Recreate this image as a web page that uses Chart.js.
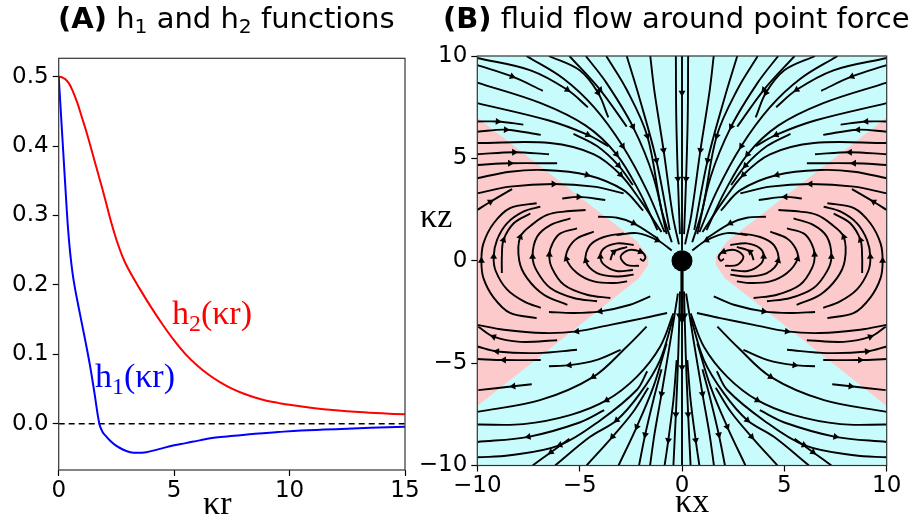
<!DOCTYPE html>
<html>
<head>
<meta charset="utf-8">
<title>h1, h2 and flow around a point force</title>
<script src="https://cdn.jsdelivr.net/npm/chart.js@4.4.1/dist/chart.umd.min.js"></script>
<style>
  html, body { margin: 0; padding: 0; background: #fff; }
  #page { position: relative; width: 924px; height: 522px; overflow: hidden; font-family: "DejaVu Sans", sans-serif; }
  canvas { position: absolute; top: 0; }
  #chartA { left: 0; }
  #chartB { left: 405px; }
  .title { position: absolute; top: 4px; font-size: 29px; line-height: 1; white-space: nowrap; color: #000; }
  .sub { font-size: 70%; position: relative; top: 0.25em; }
  .math { position: absolute; font-family: "Liberation Serif", serif; font-size: 34px; line-height: 1; white-space: nowrap; color: #000; }
  .math .sub { top: 0.3em; }
</style>
</head>
<body>
<div id="page">
  <canvas id="chartA" width="440" height="522"></canvas>
  <canvas id="chartB" width="519" height="522"></canvas>
  <div class="title" style="left:58px"><b>(A)</b> h<span class="sub">1</span> and h<span class="sub">2</span> functions</div>
  <div class="title" style="left:443px"><b>(B)</b> fluid flow around point force</div>
  <div class="math" style="left:172px; top:296px; color:#ff0000">h<span class="sub">2</span>(κr)</div>
  <div class="math" style="left:95px; top:359px; color:#0000ff">h<span class="sub">1</span>(κr)</div>
  <div class="math" style="left:203px; top:486px">κr</div>
  <div class="math" style="left:675px; top:484px">κx</div>
  <div class="math" style="left:420px; top:199px">κz</div>
</div>
<script>
// ---- panel A: h1 and h2 ----
const h1Kr = [0, 0.1, 0.2, 0.3, 0.4, 0.5, 0.6, 0.7, 0.85, 1.0, 1.15, 1.36, 1.55, 1.76, 1.9, 2.05, 2.2, 2.5, 2.8, 3.1, 3.4, 3.8, 4.3, 5.0, 5.5, 6.1, 6.8, 7.6, 8.5, 9.5, 10.5, 11.5, 12.5, 13.5, 15];
const h1Values = [0.5, 0.445, 0.39, 0.335, 0.283, 0.245, 0.217, 0.196, 0.17, 0.145, 0.12, 0.083, 0.044, 0.0, -0.012, -0.018, -0.0235, -0.032, -0.0375, -0.041, -0.042, -0.041, -0.037, -0.031, -0.028, -0.024, -0.02, -0.0175, -0.0145, -0.012, -0.0098, -0.0085, -0.0072, -0.006, -0.0045];
const h2Kr = [0, 0.1, 0.2, 0.3, 0.45, 0.6, 0.8, 1.0, 1.25, 1.5, 1.76, 2.0, 2.25, 2.5, 2.75, 3.0, 3.5, 4.0, 4.5, 5.0, 5.5, 6.0, 6.5, 7.0, 7.5, 8.0, 8.5, 9.0, 9.5, 10, 11, 12, 13, 14, 15];
const h2Values = [0.5, 0.4995, 0.498, 0.496, 0.49, 0.48, 0.463, 0.442, 0.415, 0.385, 0.354, 0.325, 0.293, 0.265, 0.242, 0.224, 0.195, 0.168, 0.143, 0.12, 0.1, 0.084, 0.0705, 0.0595, 0.0505, 0.0435, 0.0378, 0.0332, 0.03, 0.0272, 0.0228, 0.0194, 0.0168, 0.0149, 0.0135];
const zeroLine = [[0, 0], [15, 0]];
const krTicks = [0, 5, 10, 15];
const hTicks = [0, 0.1, 0.2, 0.3, 0.4, 0.5];

// ---- panel B: streamlines, left half (right half is its mirror) ----
// each line is listed in the direction of the flow
const upperFlow = [
  [[-0.3, 10], [-0.28, 7.0], [-0.2, 4.0], [-0.1, 1.3]],
  [[-1.55, 10], [-1.35, 8.3], [-0.9, 5.4], [-0.45, 2.2], [-0.15, 0.8]],
  [[-2.7, 10], [-2.05, 7.85], [-1.25, 4.9], [-0.6, 1.5]],
  [[-3.7, 10], [-2.7, 8.35], [-1.7, 6.1], [-1.0, 2.5], [-0.5, 0.9]],
  [[-4.7, 10], [-3.7, 8.7], [-2.4, 6.55], [-1.4, 4.1], [-0.75, 1.3]],
  [[-5.5, 10], [-4.0, 8.35], [-2.7, 6.55]],
  [[-6.5, 10], [-5.0, 9.3], [-4.1, 8.2], [-3.6, 7.0]],
  [[-7.6, 10], [-5.8, 8.9], [-4.3, 7.5], [-2.9, 5.6], [-1.7, 3.4], [-0.85, 1.4]],
  [[-10, 9.9], [-7.4, 9.3], [-5.6, 8.35], [-4.6, 7.5]],
  [[-10, 9.55], [-8.3, 9.0], [-6.8, 8.3]],
  [[-10, 8.7], [-6.9, 7.7], [-4.7, 6.6], [-3.2, 5.2], [-2.1, 3.4], [-1.2, 1.5]],
  [[-10, 7.7], [-6.5, 6.85], [-4.6, 6.15], [-3.6, 5.6]],
  [[-5.3, 6.2], [-4.15, 5.6], [-3.1, 4.65], [-2.4, 3.7]]
];
const upperPink = [
  [[-10, 6.8], [-9.0, 6.8], [-7.75, 6.65]],
  [[-10, 6.3], [-8.6, 6.4], [-6.9, 6.15]],
  [[-10, 5.75], [-6.45, 5.75], [-4.3, 5.2], [-3.0, 4.2], [-2.0, 2.9], [-1.0, 1.4]],
  [[-10, 5.2], [-8.2, 5.3], [-6.5, 5.2]],
  [[-10, 4.68], [-8.4, 4.76], [-6.1, 4.76]],
  [[-10, 4.03], [-8.4, 4.35], [-6.75, 4.43], [-4.64, 4.19], [-2.85, 3.45], [-1.9, 2.45]],
  [[-10, 3.29], [-8.4, 3.62], [-6.27, 3.75], [-4.31, 3.62], [-2.85, 3.29]],
  [[-10, 2.48], [-9.36, 2.88], [-8.3, 3.5]],
  [[-5.85, 3.04], [-5.05, 3.12], [-3.75, 2.97]],
  [[-4.1, 2.15], [-3.17, 2.1], [-2.36, 1.83], [-1.2, 1.1]],
  [[-3.2, 1.25], [-2.2, 1.35], [-1.2, 1.0], [-0.5, 0.5]]
];
const loopArcs = [
  [[-7.1, -2.8], [-8.4, -2.55], [-9.2, -1.8], [-9.7, -0.85], [-9.8, 0], [-9.7, 0.85], [-9.2, 1.83], [-8.4, 2.57], [-7.1, 2.81]],
  [[-6.9, -2.3], [-7.7, -2.0], [-8.55, -1.4], [-9.1, -0.5], [-9.2, 0.2], [-9.04, 1.01], [-8.55, 1.83], [-7.73, 2.41], [-6.92, 2.64]],
  [[-8.8, -0.6], [-8.8, 0.2], [-8.72, 1.01], [-8.22, 1.83], [-7.41, 2.31]],
  [[-5.6, -2.15], [-6.75, -1.66], [-7.57, -0.85], [-7.95, 0], [-7.9, 1.17], [-7.24, 1.83], [-6.59, 2.24], [-5.77, 2.4], [-4.71, 2.48]],
  [[-4.15, -1.98], [-5.29, -1.82], [-6.43, -1.33], [-7.08, -0.52], [-7.3, 0.2], [-7.08, 1.17], [-6.43, 1.74], [-5.45, 2.07]],
  [[-3.5, -1.82], [-4.64, -1.66], [-5.77, -1.17], [-6.35, -0.36], [-6.48, 0.3], [-6.3, 0.9], [-5.94, 1.34], [-5.13, 1.58]],
  [[-2.68, -1.01], [-3.33, -1.09], [-4.31, -1.01], [-5.13, -0.6], [-5.65, 0.1], [-5.55, 0.6], [-5.13, 1.09], [-4.31, 1.42]],
  [[-2.36, -0.68], [-3.17, -0.77], [-4.15, -0.6], [-4.7, 0.0], [-4.5, 0.75], [-3.82, 1.16], [-2.85, 1.34]],
  [[-2.4, -0.45], [-3.2, -0.5], [-3.8, -0.2], [-3.99, 0.2], [-3.82, 0.6], [-3.17, 0.85], [-2.36, 0.77]],
  [[-3.5, 0.03], [-3.33, 0.44], [-2.68, 0.68]],
  [[-2.1, -0.25], [-2.7, -0.2], [-3.0, 0.2], [-2.6, 0.52], [-2.03, 0.44], [-1.79, 0.2], [-1.9, 0.0], [-2.05, 0.1]]
];
const lowerPink = [
  [[-0.73, -2.55], [-1.87, -2.8], [-3.5, -3.13], [-5.13, -3.45], [-6.75, -3.53], [-8.7, -3.37], [-10, -3.13]],
  [[-1.55, -1.74], [-2.53, -2.15], [-3.99, -2.47], [-5.29, -2.55], [-6.5, -2.5]],
  [[-6.1, -3.88], [-7.9, -3.96], [-9.2, -3.71], [-9.95, -3.22]],
  [[-5.13, -4.35], [-7.08, -4.51], [-9.04, -4.43], [-10, -4.19]],
  [[-6.9, -4.85], [-8.7, -4.85], [-10, -4.8]],
  [[-7.34, -6.03], [-8.24, -6.13], [-9.95, -6.32]]
];
const lowerFlow = [
  [[-0.1, -1.5], [-0.18, -4.5], [-0.3, -7.5], [-0.42, -10]],
  [[-0.26, -4.85], [-0.42, -6.81], [-0.67, -8.77], [-0.85, -10]],
  [[-0.2, -1.6], [-0.55, -3.8], [-1.0, -6.5], [-1.35, -8.5], [-1.56, -10]],
  [[-1.0, -5.3], [-1.4, -6.81], [-1.8, -8.5], [-2.1, -10]],
  [[-0.75, -4.04], [-1.4, -6.16], [-2.21, -8.11], [-3.1, -10]],
  [[-1.65, -6.2], [-2.4, -7.4], [-3.4, -8.6], [-4.66, -10]],
  [[-0.42, -2.74], [-1.07, -4.85], [-2.05, -6.48], [-3.19, -7.79], [-4.49, -8.6], [-6.2, -10]],
  [[-5.5, -8.7], [-6.4, -9.35], [-7.3, -10]],
  [[-1.7, -5.4], [-2.2, -6.3], [-4.0, -7.8], [-5.96, -9.0], [-8.4, -9.5], [-10, -9.6]],
  [[-3.8, -7.3], [-5.0, -7.9], [-7.5, -8.6], [-10, -8.85]],
  [[-0.42, -2.57], [-1.07, -4.2], [-2.21, -5.67], [-3.68, -6.81], [-5.47, -7.54], [-7.75, -7.98], [-10, -8.0]],
  [[-1.73, -3.22], [-2.7, -4.2], [-4.33, -5.67], [-6.94, -6.81], [-10, -7.38]],
  [[-3.0, -4.35], [-4.2, -4.85], [-5.5, -5.1], [-6.5, -5.15]]
];
// lines on the force axis (not mirrored)
const axisLines = [
  [[0, 10], [0, 8.2], [0, 0.5]],
  [[0, -2.8], [0, -5.2], [0, -10]]
];
const axisJet = [[0, -0.5], [0, -2.75]];
// region where the vertical velocity points upwards (left side)
const upwardRegion = [[-10, 7.0], [-2.2, 0.95], [-1.65, 0.2], [-1.65, -0.2], [-2.1, -0.85], [-10, -7.1]];
const forcePoint = [[0, 0]];
const kxTicks = [-10, -5, 0, 5, 10];
const kzTicks = [-10, -5, 0, 5, 10];

const CYAN = 'rgb(200, 252, 252)';
const PINK = 'rgb(252, 202, 202)';
const tickFont = { family: 'DejaVu Sans', size: 23 };

const framePlugin = {
  id: 'frame',
  beforeDatasetsDraw(chart, args, opts) {
    if (!opts.fill) return;
    const a = chart.chartArea, ctx = chart.ctx;
    ctx.save();
    ctx.fillStyle = opts.fill;
    ctx.fillRect(a.left, a.top, a.right - a.left, a.bottom - a.top);
    ctx.restore();
  },
  afterDatasetsDraw(chart) {
    const a = chart.chartArea, ctx = chart.ctx;
    ctx.save();
    ctx.strokeStyle = '#333';
    ctx.lineWidth = 1.2;
    ctx.strokeRect(a.left, a.top, a.right - a.left, a.bottom - a.top);
    ctx.restore();
  }
};

function fmt(v) {
  return v < 0 ? '\u2212' + Math.abs(v) : String(v);
}

function axis(min, max, ticks, fit, isX, labelFmt, pad) {
  return {
    type: 'linear', min, max,
    afterBuildTicks: s => { s.ticks = ticks.map(v => ({ value: v })); },
    afterFit: s => { if (isX) s.height = fit; else s.width = fit; },
    ticks: { font: tickFont, color: '#000', padding: pad, maxRotation: 0, autoSkip: false, callback: labelFmt },
    grid: { display: true, drawOnChartArea: false, drawTicks: true, tickLength: 6, tickColor: '#000', tickWidth: 1.2 },
    border: { display: false }
  };
}

// ---- chart A ----
new Chart(document.getElementById('chartA'), {
  type: 'scatter',
  data: {
    datasets: [
      { data: h1Kr.map((x, i) => ({ x, y: h1Values[i] })), showLine: true, borderColor: '#0000ff', borderWidth: 2,
        pointRadius: 0, tension: 0.4 },
      { data: h2Kr.map((x, i) => ({ x, y: h2Values[i] })), showLine: true, borderColor: '#ff0000', borderWidth: 2,
        pointRadius: 0, tension: 0.4 },
      { data: zeroLine.map(([x, y]) => ({ x, y })), showLine: true, borderColor: '#000', borderWidth: 1.6,
        borderDash: [6, 4], pointRadius: 0 }
    ]
  },
  options: {
    responsive: false, animation: false, events: [],
    layout: { padding: { left: 0, top: 58.3, right: 35, bottom: 0 } },
    plugins: { legend: { display: false }, tooltip: { enabled: false }, frame: {} },
    scales: {
      x: axis(0, 15, krTicks, 52, true, v => String(v), 1),
      y: axis(-0.0667, 0.5265, hTicks, 58.7, false, v => v.toFixed(1), 4)
    }
  },
  plugins: [framePlugin]
});

// ---- chart B ----
function streamDataset(points, width, arrowSize, arrowIndex) {
  const data = points.map(([x, y]) => ({ x, y }));
  const mid = arrowIndex !== undefined ? arrowIndex : Math.floor(data.length / 2);
  return {
    data, showLine: true, borderColor: '#000', borderWidth: width, tension: 0.35,
    pointStyle: 'triangle', pointBackgroundColor: '#000', pointBorderColor: '#000', pointBorderWidth: 0,
    pointRadius: data.map((_, i) => (i === mid ? arrowSize : 0)),
    pointRotation: ctx => {
      const d = ctx.dataset.data, i = ctx.dataIndex;
      const a = d[Math.max(i - 1, 0)], b = d[Math.min(i + 1, d.length - 1)];
      return Math.atan2(b.x - a.x, b.y - a.y) * 180 / Math.PI;
    },
    order: 1
  };
}
const mirror = pts => pts.map(([x, y]) => [-x, y]);

const streamDatasets = [];
[upperFlow, upperPink, loopArcs, lowerPink, lowerFlow].forEach(group => {
  group.forEach(line => {
    streamDatasets.push(streamDataset(line, 1.9, 4));
    streamDatasets.push(streamDataset(mirror(line), 1.9, 4));
  });
});
axisLines.forEach(line => streamDatasets.push(streamDataset(line, 1.9, 4)));
streamDatasets.push(streamDataset(axisJet, 3.2, 7, axisJet.length - 1));

const regionDataset = pts => ({
  data: pts.map(([x, y]) => ({ x, y })), showLine: true, fill: 'shape', backgroundColor: PINK,
  borderColor: 'rgba(0,0,0,0)', borderWidth: 0, pointRadius: 0, tension: 0, order: 2
});

new Chart(document.getElementById('chartB'), {
  type: 'scatter',
  data: {
    datasets: [
      { data: forcePoint.map(([x, y]) => ({ x, y })), pointRadius: 10.5, pointStyle: 'circle',
        pointBackgroundColor: '#000', pointBorderWidth: 0, showLine: false, order: 0 },
      ...streamDatasets,
      regionDataset(upwardRegion),
      regionDataset(mirror(upwardRegion))
    ]
  },
  options: {
    responsive: false, animation: false, events: [],
    layout: { padding: { left: 0, top: 56, right: 37.3, bottom: 0 } },
    plugins: { legend: { display: false }, tooltip: { enabled: false }, frame: { fill: CYAN } },
    scales: {
      x: axis(-10, 10, kxTicks, 56.5, true, fmt, 1),
      y: axis(-10, 10, kzTicks, 72.3, false, fmt, 4)
    }
  },
  plugins: [framePlugin]
});
</script>
</body>
</html>
